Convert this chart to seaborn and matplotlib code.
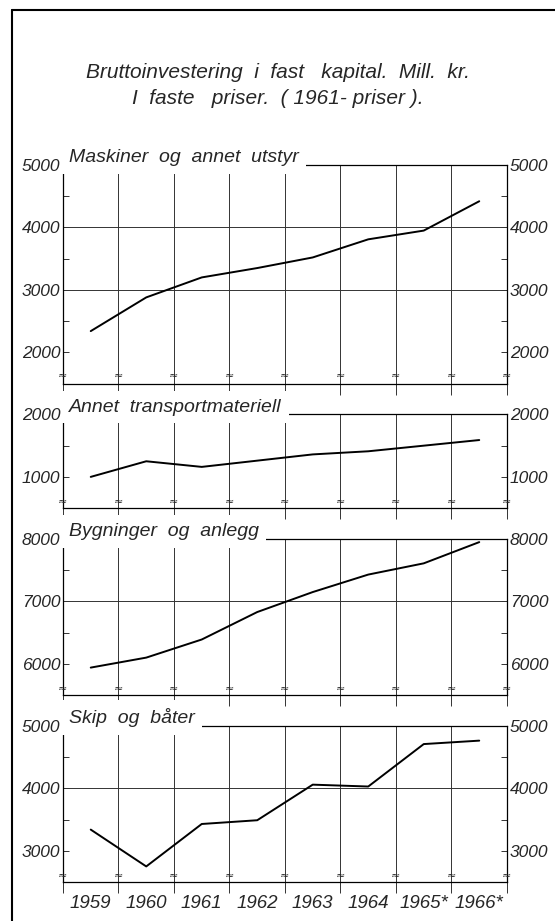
import numpy as np
import pandas as pd
import seaborn as sns
import matplotlib.pyplot as plt
from matplotlib.lines import Line2D
from matplotlib.ticker import MultipleLocator, FixedLocator

# data (mill. kr, 1961-prices)
years = [1959, 1960, 1961, 1962, 1963, 1964, 1965, 1966]
year_labels = ['1959', '1960', '1961', '1962', '1963', '1964', '1965*', '1966*']
maskiner = [2340, 2880, 3200, 3350, 3520, 3810, 3950, 4420]
transport = [1000, 1250, 1160, 1260, 1360, 1410, 1500, 1590]
bygninger = [5940, 6100, 6390, 6830, 7150, 7430, 7610, 7950]
skip = [3340, 2750, 3430, 3490, 4060, 4030, 4710, 4765]

titles = ['Maskiner  og  annet  utstyr', 'Annet  transportmateriell',
          'Bygninger  og  anlegg', 'Skip  og  båter']

df = pd.DataFrame({'år': years * 4,
                   'verdi': maskiner + transport + bygninger + skip,
                   'gruppe': sum([[t] * len(years) for t in titles], [])})

sns.set_theme(style='white')
plt.rcParams['font.family'] = ['Liberation Sans', 'DejaVu Sans']
plt.rcParams['font.style'] = 'italic'
plt.rcParams['font.size'] = 14

ylims = [(1500, 5000), (500, 2000), (5500, 8000), (2500, 5000)]
edges = np.arange(years[0] - 0.5, years[-1] + 1, 1)

fig = plt.figure(figsize=(5.55, 9.21), dpi=100)
gs = fig.add_gridspec(4, 1, height_ratios=[3.5, 1.5, 2.5, 2.5],
                      left=0.1135, right=0.9135, top=0.8208, bottom=0.0423,
                      hspace=0.198)

for i, t in enumerate(titles):
    ax = fig.add_subplot(gs[i])
    sns.lineplot(data=df[df['gruppe'] == t], x='år', y='verdi', ax=ax,
                 color='black', lw=1.4)
    ax.set_xlim(edges[0], edges[-1])
    ax.set_ylim(*ylims[i])
    ax.set_xlabel('')
    ax.set_ylabel('')

    ax.xaxis.set_major_locator(FixedLocator(years))
    ax.xaxis.set_minor_locator(FixedLocator(edges))
    ax.grid(axis='x', which='minor', color='#333333', lw=0.7)
    ax.tick_params(axis='x', which='major', length=0, labelbottom=(i == 3),
                   pad=9, labelsize=13.5)
    ax.tick_params(axis='x', which='minor', bottom=True, length=8, width=0.7,
                   direction='out', color='#333333')
    if i == 3:
        ax.set_xticklabels(year_labels)

    ax.yaxis.set_major_locator(MultipleLocator(1000))
    ax.yaxis.set_minor_locator(MultipleLocator(500))
    ax.tick_params(axis='y', which='both', direction='in', left=True, right=True,
                   labelleft=True, labelright=True, length=4, width=0.7,
                   color='#333333', labelsize=12.5, pad=2)

    # horizontal rules at the major values, not the lowest one
    lo, hi = ylims[i]
    majors = [v for v in ax.get_yticks() if lo < v < hi]
    for v in majors[1:]:
        ax.axhline(v, color='#333333', lw=0.7, zorder=0.5)

    for s in ax.spines.values():
        s.set_color('black')
        s.set_linewidth(0.9)

    # little break marks near the cut axis
    for e in edges:
        ax.text(e, 0.01, '≈', transform=ax.get_xaxis_transform(), ha='center',
                va='bottom', fontsize=8, family='DejaVu Sans', style='normal')

    ax.annotate(t, xy=(0, 1), xycoords='axes fraction', xytext=(4, 2),
                textcoords='offset points', ha='left', va='baseline',
                fontsize=14, zorder=5, annotation_clip=False,
                bbox=dict(boxstyle='square,pad=0.4', fc='white', ec='none'))

fig.text(0.5, 1 - 72 / 921, 'Bruttoinvestering  i  fast   kapital.  Mill.  kr.',
         ha='center', va='center', fontsize=15)
fig.text(0.5, 1 - 99 / 921, 'I  faste   priser.  ( 1961- priser ).',
         ha='center', va='center', fontsize=15)

# frame around the sheet
fig.add_artist(Line2D([12 / 555, 12 / 555], [0, 1 - 10 / 921],
                      transform=fig.transFigure, color='black', lw=1.5))
fig.add_artist(Line2D([12 / 555, 1], [1 - 10 / 921, 1 - 10 / 921],
                      transform=fig.transFigure, color='black', lw=1.5))

fig.savefig('out.png', dpi=100)
